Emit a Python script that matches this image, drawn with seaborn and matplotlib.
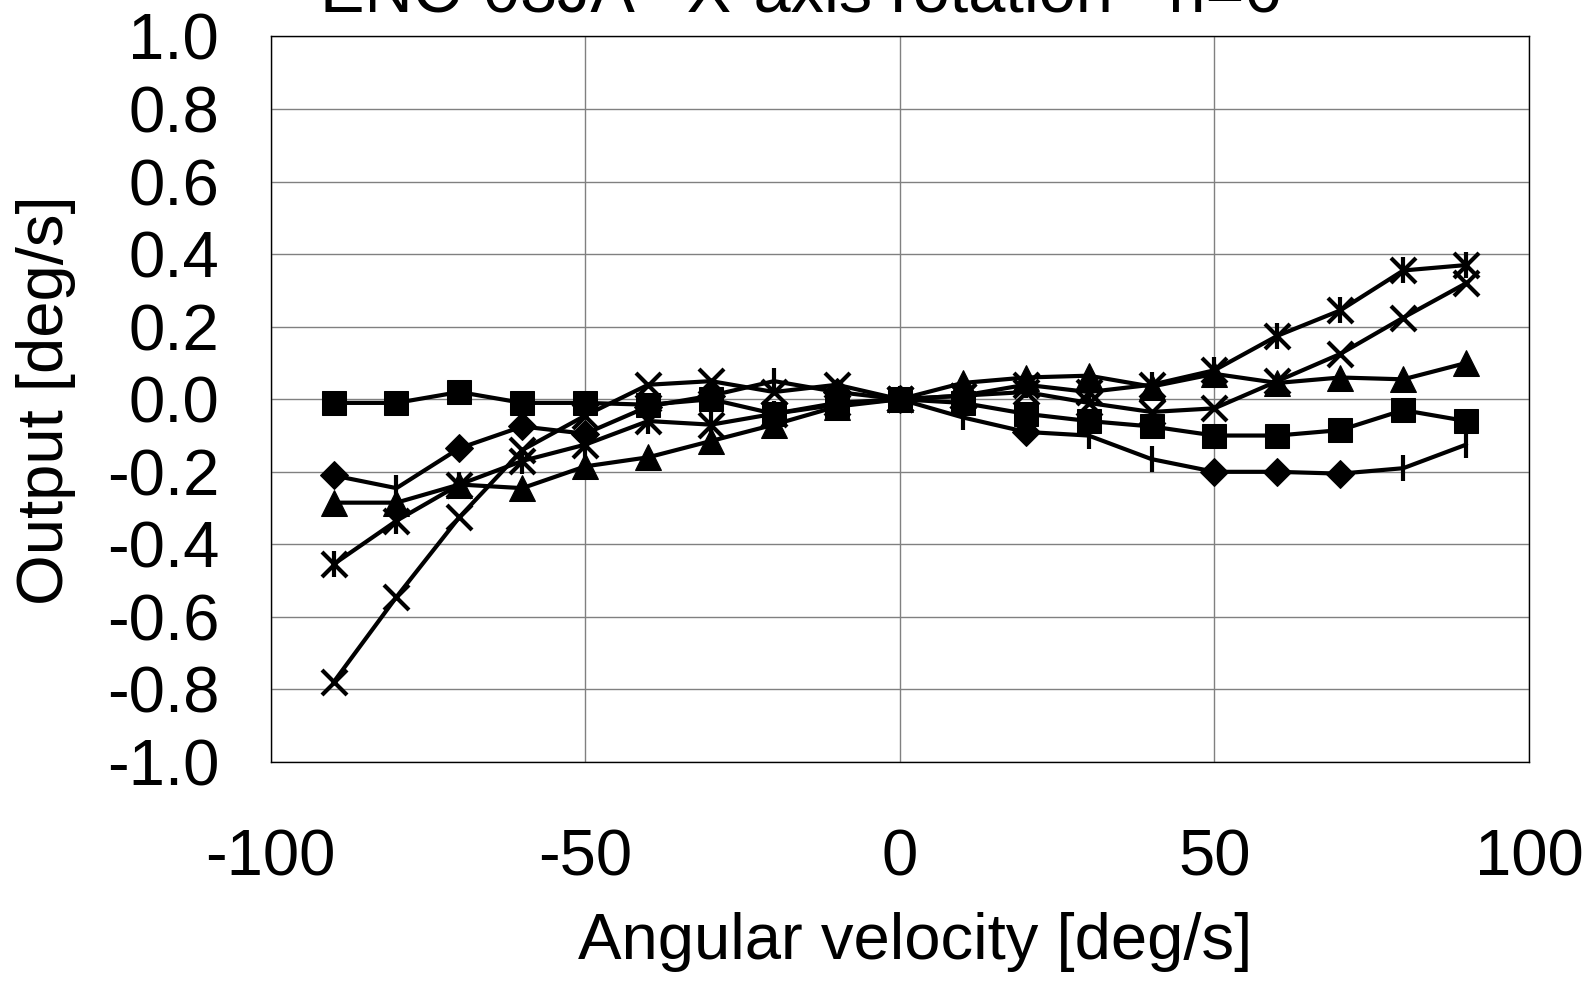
import numpy as np
import pandas as pd
import matplotlib
matplotlib.use("Agg")
import matplotlib.pyplot as plt
import seaborn as sns

# ---- data ----
angular_velocity = [-90, -80, -70, -60, -50, -40, -30, -20, -10, 0,
                    10, 20, 30, 40, 50, 60, 70, 80, 90]
s1_diamond = [-0.21, -0.245, -0.135, -0.075, -0.095, -0.02, 0.01, 0.05, 0.02, 0.0,
              -0.05, -0.09, -0.10, -0.165, -0.20, -0.20, -0.205, -0.19, -0.125]
s2_square = [-0.01, -0.01, 0.02, -0.01, -0.01, -0.015, 0.0, -0.04, -0.015, 0.0,
             -0.01, -0.04, -0.06, -0.075, -0.10, -0.10, -0.085, -0.03, -0.06]
s3_triangle = [-0.285, -0.285, -0.235, -0.245, -0.185, -0.16, -0.115, -0.07, -0.02, 0.0,
               0.045, 0.06, 0.065, 0.035, 0.07, 0.045, 0.06, 0.055, 0.10]
s4_cross = [-0.78, -0.545, -0.325, -0.14, -0.045, 0.04, 0.05, 0.02, 0.04, 0.0,
            0.01, 0.02, -0.01, -0.035, -0.025, 0.05, 0.125, 0.225, 0.32]
s5_star = [-0.455, -0.335, -0.235, -0.17, -0.125, -0.06, -0.07, -0.04, -0.01, 0.0,
           0.01, 0.04, 0.02, 0.04, 0.08, 0.175, 0.245, 0.355, 0.37]

x_ticks = [-100, -50, 0, 50, 100]
y_ticks = [-1.0, -0.8, -0.6, -0.4, -0.2, 0.0, 0.2, 0.4, 0.6, 0.8, 1.0]
title = "ENC-03JA   X-axis rotation   n=6"
x_label = "Angular velocity [deg/s]"
y_label = "Output [deg/s]"

# ---- style ----
sns.set_theme(style="white")
plt.rcParams["font.family"] = ["Liberation Sans", "DejaVu Sans"]
plt.rcParams["axes.unicode_minus"] = False
plt.rcParams["text.color"] = "black"
plt.rcParams["axes.labelcolor"] = "black"

fig = plt.figure(figsize=(15.89, 9.81), dpi=100)
ax = fig.add_axes([0.1703, 0.2232, 0.9623 - 0.1703, 0.9628 - 0.2232])

df = pd.DataFrame({
    "x": angular_velocity,
    "s1": s1_diamond, "s2": s2_square, "s3": s3_triangle,
    "s4": s4_cross, "s5": s5_star,
})

lw = 3.0
common = dict(color="black", linewidth=lw, ax=ax, legend=False)

# series 1: line with mixed diamond / bar markers
sns.lineplot(data=df, x="x", y="s1", **common)
bar_pts = [-80, -20, 10, 30, 40, 80, 90]
d1 = df[~df["x"].isin(bar_pts)]
b1 = df[df["x"].isin(bar_pts)]
sns.lineplot(data=d1, x="x", y="s1", color="black", linestyle="", marker="D",
             markersize=14, markeredgecolor="black", ax=ax, legend=False)
sns.lineplot(data=b1, x="x", y="s1", color="black", linestyle="", marker="|",
             markersize=19, markeredgewidth=3, markeredgecolor="black", ax=ax, legend=False)

# series 2: squares
sns.lineplot(data=df, x="x", y="s2", marker="s", markersize=17.5,
             markeredgecolor="black", **common)
# series 3: triangles
sns.lineplot(data=df, x="x", y="s3", marker="^", markersize=19,
             markeredgecolor="black", **common)
# series 4: x
sns.lineplot(data=df, x="x", y="s4", marker="x", markersize=18,
             markeredgewidth=3, markeredgecolor="black", **common)
# series 5: asterisk (x + |)
sns.lineplot(data=df, x="x", y="s5", marker="x", markersize=18,
             markeredgewidth=3, markeredgecolor="black", **common)
sns.lineplot(data=df, x="x", y="s5", color="black", linestyle="", marker="|",
             markersize=19, markeredgewidth=3, markeredgecolor="black", ax=ax, legend=False)

ax.set_xlim(-100, 100)
ax.set_ylim(-1.0, 1.0)
ax.set_xticks(x_ticks)
ax.set_yticks(y_ticks)
ax.set_xticklabels([str(v) for v in x_ticks])
ax.set_yticklabels([f"{v:.1f}" for v in y_ticks])
ax.grid(True, color="#808080", linewidth=1.0)
for sp in ax.spines.values():
    sp.set_color("black")
    sp.set_linewidth(1.0)
    sp.set_visible(True)

ax.tick_params(axis="both", labelsize=47, colors="black", direction="in",
               length=5, width=1)
ax.tick_params(axis="y", pad=37)
ax.tick_params(axis="x", pad=48)

ax.set_xlabel("")
ax.set_ylabel("")
fig.text(915 / 1589, 1 - 942 / 981, x_label, fontsize=47, ha="center", va="center",
         color="black")
fig.text(46 / 1589, 1 - 400 / 981, y_label, fontsize=47, ha="center", va="center",
         rotation=90, color="black")
fig.text(801 / 1589, 1 - 12 / 981, title, fontsize=48, ha="center", va="baseline",
         color="black")

fig.savefig("out.png", dpi=100, facecolor="white")
